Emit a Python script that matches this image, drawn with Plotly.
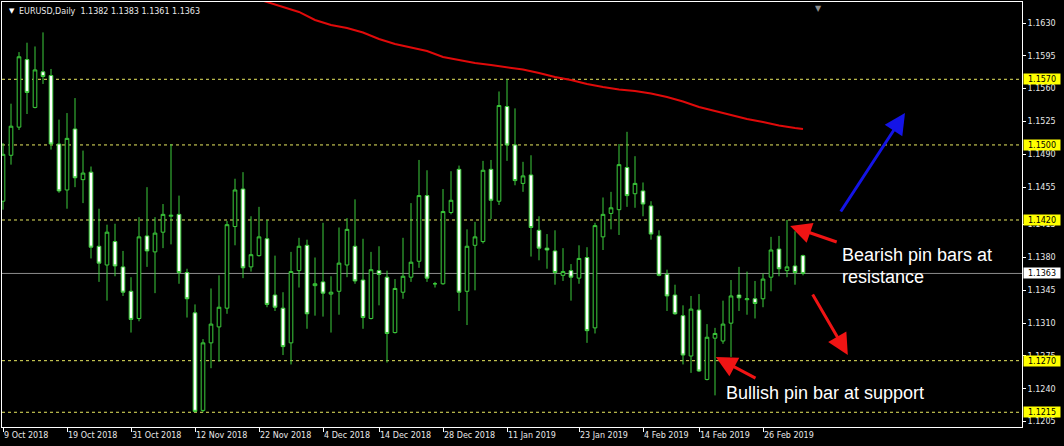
import plotly.graph_objects as go

# ---------------- data ----------------
symbol = "EURUSD,Daily"

opens = [1.1440, 1.1489, 1.1519, 1.1591, 1.1540, 1.1578, 1.1574, 1.1501, 1.1452, 1.1517,
         1.1463, 1.1471, 1.1392, 1.1372, 1.1397, 1.1370, 1.1344, 1.1315, 1.1403, 1.1386,
         1.1407, 1.1424, 1.1426, 1.1364, 1.1321, 1.1217, 1.1289, 1.1306, 1.1326, 1.1413,
         1.1453, 1.1370, 1.1382, 1.1400, 1.1340, 1.1326, 1.1289, 1.1366, 1.1393, 1.1350,
         1.1354, 1.1341, 1.1344, 1.1372, 1.1392, 1.1356, 1.1315, 1.1366, 1.1359, 1.1300,
         1.1343, 1.1359, 1.1376, 1.1446, 1.1352, 1.1352, 1.1428, 1.1474, 1.1344, 1.1393,
         1.1397, 1.1474, 1.1440, 1.1541, 1.1500, 1.1459, 1.1468, 1.1409, 1.1390, 1.1387,
         1.1361, 1.1366, 1.1358, 1.1380, 1.1305, 1.1402, 1.1427, 1.1431, 1.1476, 1.1448,
         1.1451, 1.1435, 1.1403, 1.1362, 1.1340, 1.1318, 1.1275, 1.1324, 1.1250, 1.1294,
         1.1291, 1.1310, 1.1340, 1.1335, 1.1336, 1.1336, 1.1359, 1.1389, 1.1366, 1.1371,
         1.1382]
highs = [1.1502, 1.1544, 1.1599, 1.1609, 1.1605, 1.1620, 1.1581, 1.1527, 1.1534, 1.1550,
         1.1494, 1.1477, 1.1432, 1.1415, 1.1416, 1.1387, 1.1359, 1.1423, 1.1455, 1.1423,
         1.1437, 1.1501, 1.1446, 1.1368, 1.1330, 1.1293, 1.1347, 1.1361, 1.1419, 1.1464,
         1.1471, 1.1424, 1.1434, 1.1420, 1.1382, 1.1343, 1.1386, 1.1401, 1.1399, 1.1380,
         1.1417, 1.1360, 1.1412, 1.1422, 1.1442, 1.1400, 1.1386, 1.1392, 1.1366, 1.1357,
         1.1401, 1.1438, 1.1484, 1.1473, 1.1354, 1.1453, 1.1472, 1.1478, 1.1410, 1.1418,
         1.1483, 1.1484, 1.1557, 1.1570, 1.1539, 1.1482, 1.1489, 1.1424, 1.1405, 1.1409,
         1.1390, 1.1373, 1.1393, 1.1391, 1.1417, 1.1444, 1.1450, 1.1501, 1.1514, 1.1488,
         1.1460, 1.1440, 1.1409, 1.1367, 1.1351, 1.1329, 1.1339, 1.1341, 1.1309, 1.1305,
         1.1334, 1.1356, 1.1370, 1.1365, 1.1355, 1.1363, 1.1402, 1.1403, 1.1420, 1.1408,
         1.1383]
lows = [1.1431, 1.1479, 1.1516, 1.1533, 1.1539, 1.1565, 1.1495, 1.1449, 1.1432, 1.1455,
        1.1438, 1.1379, 1.1354, 1.1334, 1.1360, 1.1339, 1.1300, 1.1312, 1.1370, 1.1342,
        1.1390, 1.1394, 1.1352, 1.1316, 1.1215, 1.1215, 1.1262, 1.1269, 1.1320, 1.1393,
        1.1358, 1.1365, 1.1381, 1.1327, 1.1323, 1.1276, 1.1266, 1.1348, 1.1304, 1.1318,
        1.1317, 1.1300, 1.1319, 1.1359, 1.1352, 1.1304, 1.1314, 1.1329, 1.1268, 1.1299,
        1.1336, 1.1354, 1.1369, 1.1354, 1.1348, 1.1351, 1.1426, 1.1323, 1.1308, 1.1345,
        1.1395, 1.1421, 1.1436, 1.1483, 1.1457, 1.1450, 1.1381, 1.1377, 1.1368, 1.1351,
        1.1355, 1.1334, 1.1352, 1.1289, 1.1299, 1.1388, 1.1410, 1.1404, 1.1434, 1.1433,
        1.1424, 1.1399, 1.1360, 1.1323, 1.1319, 1.1266, 1.1257, 1.1258, 1.1249, 1.1233,
        1.1288, 1.1274, 1.1323, 1.1319, 1.1315, 1.1327, 1.1344, 1.1360, 1.1359, 1.1351,
        1.1361]
closes = [1.1490, 1.1520, 1.1594, 1.1556, 1.1580, 1.1573, 1.1501, 1.1451, 1.1507, 1.1465,
          1.1470, 1.1391, 1.1374, 1.1407, 1.1371, 1.1343, 1.1314, 1.1402, 1.1387, 1.1406,
          1.1426, 1.1425, 1.1364, 1.1336, 1.1216, 1.1289, 1.1309, 1.1327, 1.1415, 1.1452,
          1.1369, 1.1383, 1.1402, 1.1330, 1.1327, 1.1285, 1.1365, 1.1392, 1.1320, 1.1352,
          1.1342, 1.1343, 1.1374, 1.1410, 1.1355, 1.1316, 1.1367, 1.1362, 1.1299, 1.1347,
          1.1360, 1.1375, 1.1446, 1.1358, 1.1352, 1.1429, 1.1441, 1.1343, 1.1392, 1.1402,
          1.1473, 1.1441, 1.1542, 1.1500, 1.1462, 1.1467, 1.1412, 1.1390, 1.1388, 1.1364,
          1.1365, 1.1359, 1.1379, 1.1302, 1.1414, 1.1426, 1.1433, 1.1479, 1.1446, 1.1459,
          1.1437, 1.1405, 1.1361, 1.1339, 1.1320, 1.1276, 1.1325, 1.1259, 1.1295, 1.1299,
          1.1309, 1.1339, 1.1337, 1.1336, 1.1331, 1.1357, 1.1388, 1.1368, 1.1370, 1.1364,
          1.1363]

# moving average (red line), sampled at bar indices
ma_bars = [31, 33, 35, 37, 39, 41, 43, 45, 47, 49, 51, 53, 55, 57, 59, 61, 63, 65, 67, 69,
           71, 73, 75, 77, 79, 81, 83, 85, 87, 89, 91, 93, 95, 97, 99, 100]
ma_vals = [1.16577, 1.16524, 1.16471, 1.16418, 1.16332, 1.16279, 1.16247, 1.16199, 1.16130,
           1.16076, 1.16039, 1.16002, 1.15938, 1.15906, 1.15874, 1.15852, 1.15831, 1.15804,
           1.15767, 1.15725, 1.15693, 1.15650, 1.15618, 1.15591, 1.15575, 1.15549, 1.15511,
           1.15463, 1.15405, 1.15362, 1.15320, 1.15277, 1.15245, 1.15207, 1.15181, 1.15170]

# horizontal support / resistance levels and current bid
levels = [1.1570, 1.1500, 1.1420, 1.1270, 1.1215]
bid = 1.1363

# axis ticks
date_bars = [0, 8, 16, 24, 32, 40, 47, 55, 63, 72, 80, 87, 95]
date_labels = ["9 Oct 2018", "19 Oct 2018", "31 Oct 2018", "12 Nov 2018", "22 Nov 2018",
               "4 Dec 2018", "14 Dec 2018", "28 Dec 2018", "11 Jan 2019", "23 Jan 2019",
               "4 Feb 2019", "14 Feb 2019", "26 Feb 2019"]
price_ticks = [1.1630, 1.1595, 1.1560, 1.1525, 1.1490, 1.1455, 1.1415, 1.1380, 1.1345,
               1.1310, 1.1275, 1.1240, 1.1205]

# annotation arrows: (head_bar, head_price, tail_bar, tail_price)
blue_arrow = (112.75, 1.15341, 104.6, 1.14275)
red_arrows = [(98.4, 1.14136, 104.4, 1.13960),
              (105.6, 1.12761, 101.1, 1.13422),
              (89.1, 1.12739, 94.25, 1.12505)]
notes = [("Bearish pin bars at", 104.6, 1.13827),
         ("resistance", 104.6, 1.13594),
         ("Bullish pin bar at support", 90.1, 1.12356)]

# ---------------- figure ----------------
GREEN = "#3ccd3c"
FONT = "Liberation Sans"
AXFONT = "DejaVu Sans"
bars = list(range(len(opens)))

fig = go.Figure()
fig.add_trace(go.Candlestick(
    x=bars, open=opens, high=highs, low=lows, close=closes,
    increasing=dict(line=dict(color=GREEN, width=1), fillcolor="black"),
    decreasing=dict(line=dict(color=GREEN, width=1), fillcolor="white"),
    whiskerwidth=0, showlegend=False, hoverinfo="skip"))
fig.add_trace(go.Scatter(x=ma_bars, y=ma_vals, mode="lines",
                         line=dict(color="#e00a0a", width=2),
                         showlegend=False, hoverinfo="skip"))

for lv in levels:
    fig.add_shape(type="line", xref="paper", x0=0, x1=1, yref="y", y0=lv, y1=lv,
                  line=dict(color="#e8e860", width=1, dash="3px,3px"), layer="below")
    fig.add_annotation(xref="paper", x=1, xanchor="left", xshift=1, yref="y", y=lv,
                       text=f"{lv:.4f}", showarrow=False, bgcolor="#ffff00",
                       width=36, height=10, align="center", valign="middle",
                       font=dict(family=AXFONT, size=8, color="black"), borderpad=0)
fig.add_shape(type="line", xref="paper", x0=0, x1=1, yref="y", y0=bid, y1=bid,
              line=dict(color="#8c8c8c", width=1), layer="below")
fig.add_annotation(xref="paper", x=1, xanchor="left", xshift=1, yref="y", y=bid,
                   text=f"{bid:.4f}", showarrow=False, bgcolor="white",
                   width=36, height=10, align="center", valign="middle",
                   font=dict(family=AXFONT, size=8, color="black"), borderpad=0)

# header
hdr = f"{symbol} \u00a0{opens[-1]:.4f} {highs[-1]:.4f} {lows[-1]:.4f} {closes[-1]:.4f}"
fig.add_annotation(xref="paper", x=0, xshift=15, yref="paper", y=1, yshift=-9,
                   xanchor="left", yanchor="middle", text=hdr, showarrow=False,
                   font=dict(family=AXFONT, size=8, color="#e8e8e8"))
fig.add_annotation(xref="paper", x=0, xshift=5, yref="paper", y=1, yshift=-9,
                   xanchor="left", yanchor="middle", text="\u25bc", showarrow=False,
                   font=dict(family=AXFONT, size=7, color="white"))
# chart shift marker
fig.add_annotation(xref="x", x=101.9, yref="paper", y=1, yanchor="top",
                   text="\u25bc", showarrow=False,
                   font=dict(family=AXFONT, size=8, color="#8c8c8c"))

# arrows
hx, hy, tx, ty = blue_arrow
fig.add_annotation(x=hx, y=hy, ax=tx, ay=ty, xref="x", yref="y", axref="x", ayref="y",
                   text="", showarrow=True, arrowhead=2, arrowsize=1.4, arrowwidth=3,
                   arrowcolor="#1414e6", standoff=0)
for hx, hy, tx, ty in red_arrows:
    fig.add_annotation(x=hx, y=hy, ax=tx, ay=ty, xref="x", yref="y", axref="x", ayref="y",
                       text="", showarrow=True, arrowhead=2, arrowsize=1.4, arrowwidth=3,
                       arrowcolor="#f01414", standoff=0)

for txt, bx, py in notes:
    fig.add_annotation(x=bx, y=py, xref="x", yref="y", xanchor="left", yanchor="middle",
                       text=txt, showarrow=False,
                       font=dict(family=FONT, size=18, color="white"))

fig.update_layout(
    width=1064, height=446,
    margin=dict(l=2, r=42, t=2, b=19, autoexpand=False),
    paper_bgcolor="black", plot_bgcolor="black",
    showlegend=False, boxgap=0.35,
    font=dict(family=AXFONT, size=8, color="#e8e8e8"),
)
fig.update_xaxes(
    range=[-0.125, 127.375], rangeslider=dict(visible=False),
    showgrid=False, zeroline=False, showline=True, linecolor="white", linewidth=1,
    mirror=True, ticks="outside", ticklen=4, tickcolor="white",
    tickvals=date_bars, ticktext=date_labels, ticklabelposition="outside right",
    tickangle=0, automargin=False,
    tickfont=dict(family=AXFONT, size=8, color="#e8e8e8"),
)
fig.update_yaxes(
    side="right", range=[1.11993, 1.16524], automargin=False,
    showgrid=False, zeroline=False, showline=True, linecolor="white", linewidth=1,
    mirror=True, ticks="outside", ticklen=3, tickcolor="white",
    tickvals=price_ticks, ticktext=[f"{p:.4f}" for p in price_ticks],
    tickfont=dict(family=AXFONT, size=8, color="#e8e8e8"),
)

fig.write_html("out.html", config={"displayModeBar": False},
               post_script="document.body.style.margin='0';")
